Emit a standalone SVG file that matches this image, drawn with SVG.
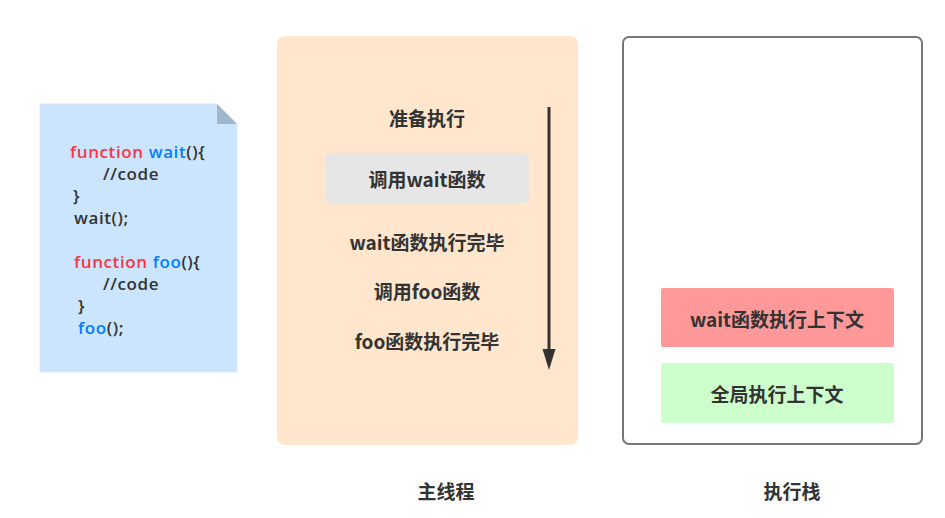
<svg xmlns="http://www.w3.org/2000/svg" width="945" height="518" viewBox="0 0 945 518">
<style>
.code{font-family:"Open Sans","Noto Sans",sans-serif;font-size:17px;letter-spacing:0.6px;font-weight:600;fill:#333}
.kw{fill:#ff3344}
.fn{fill:#007fff}
.lbl{font-family:"Comic Sans MS","Noto Sans CJK SC",sans-serif;font-size:19px;font-weight:bold;fill:#333;text-anchor:middle;dominant-baseline:central}
</style>
<rect width="945" height="518" fill="#fff"/>
<g id="code-doc">
<path d="M40,104 H217 L237,124 V372 H40 Z" fill="#cce5ff" stroke="#dae8fc" stroke-width="1"/>
<path d="M217,104 L237,124 H217 Z" fill="#9fb6cd"/>
<text class="code" x="70" y="158"><tspan class="kw">function</tspan> <tspan class="fn">wait</tspan>(){</text>
<text class="code" x="103" y="180">//code</text>
<text class="code" x="73" y="202">}</text>
<text class="code" x="74" y="224">wait();</text>
<text class="code" x="74" y="268"><tspan class="kw">function</tspan> <tspan class="fn">foo</tspan>(){</text>
<text class="code" x="103" y="290">//code</text>
<text class="code" x="78" y="312">}</text>
<text class="code" x="78" y="334"><tspan class="fn">foo</tspan>();</text>
</g>
<g id="main-thread">
<rect x="277" y="36" width="301" height="409" rx="8" fill="#ffe6cc"/>
<rect x="325" y="153" width="204" height="50" rx="6" fill="#e6e6e6"/>
<text class="lbl" x="427" y="117">准备执行</text>
<text class="lbl" x="427" y="178">调用wait函数</text>
<text class="lbl" x="427" y="241">wait函数执行完毕</text>
<text class="lbl" x="427" y="290">调用foo函数</text>
<text class="lbl" x="427" y="340">foo函数执行完毕</text>
</g>
<g id="connectors">
<line x1="549" y1="107" x2="549" y2="354" stroke="#333" stroke-width="3"/>
<path d="M542.5,349 L555.5,349 L549,370 Z" fill="#333"/>
</g>
<g id="exec-stack">
<rect x="623" y="37" width="299" height="407" rx="6" fill="#fff" stroke="#777" stroke-width="2"/>
<rect x="661" y="288" width="233" height="59" rx="2" fill="#ff9999"/>
<text class="lbl" x="777" y="318">wait函数执行上下文</text>
<rect x="661" y="363" width="233" height="60" rx="2" fill="#ccffcc"/>
<text class="lbl" x="777" y="393">全局执行上下文</text>
</g>
<g id="labels">
<text class="lbl" x="446" y="490">主线程</text>
<text class="lbl" x="792" y="490">执行栈</text>
</g>
</svg>
